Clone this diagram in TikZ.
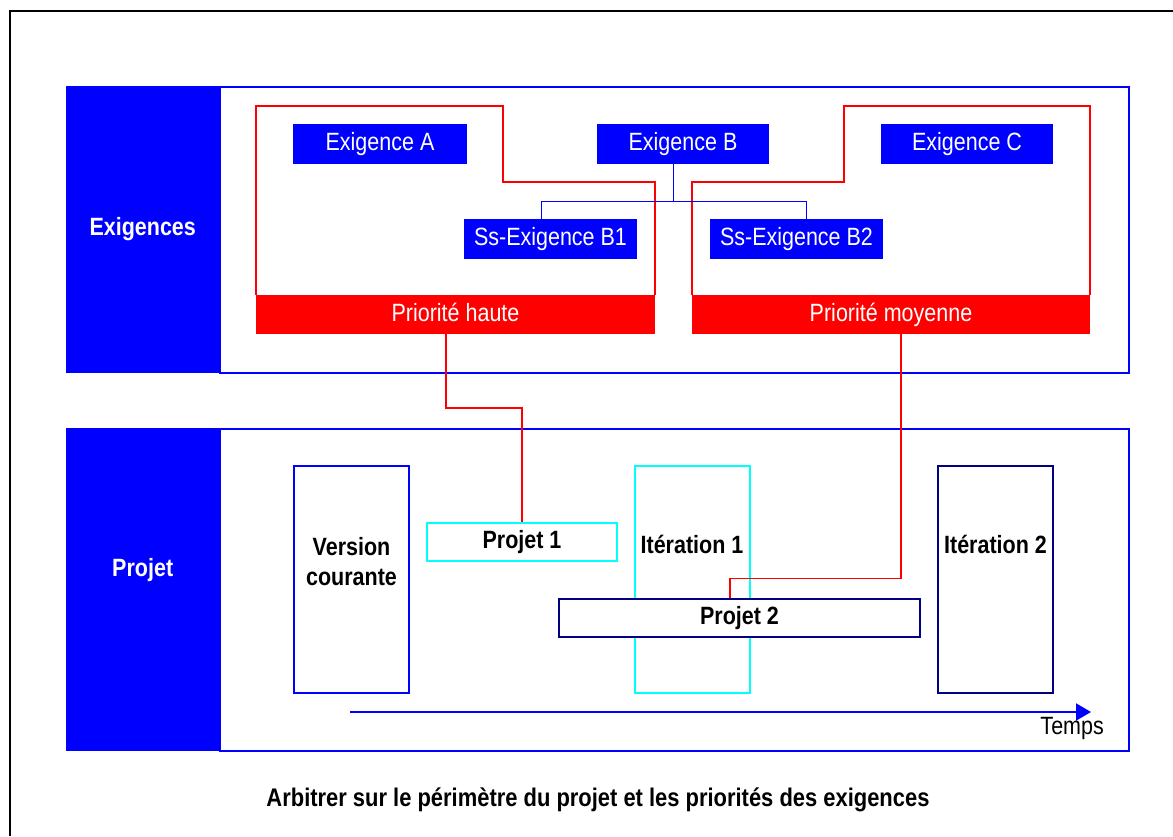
\documentclass[tikz,border=0pt]{standalone}
\usepackage{fontspec}
\setmainfont{Liberation Sans}[FakeStretch=0.86]
\usetikzlibrary{arrows.meta,calc}
\definecolor{pblue}{RGB}{0,0,255}
\definecolor{pred}{RGB}{255,0,0}
\definecolor{pcyan}{RGB}{0,255,255}
\definecolor{pnavy}{RGB}{0,0,128}
\begin{document}
\begin{tikzpicture}[x=1pt,y=-1pt,
  every node/.style={font=\fontsize{25}{30}\selectfont, inner sep=0pt},
  panel/.style={draw=pblue, line width=2pt, fill=white, minimum width=909pt, anchor=north west},
  plabel/.style={fill=pblue, draw=pblue, text=white, font=\fontsize{25}{30}\selectfont\bfseries, minimum width=153pt, anchor=north west},
  exbox/.style={fill=pblue, text=white, minimum width=173pt, minimum height=40pt, text height=18pt, text depth=5pt},
  redline/.style={draw=pred, line width=2pt},
  redbar/.style={fill=pred, text=white, minimum height=39pt, text height=18pt, text depth=5pt},
  tlbox/.style={draw=#1, line width=2pt, fill=white, minimum width=115pt, minimum height=227pt},
  projbox/.style={draw=#1, line width=2pt, fill=white, minimum height=38pt, text height=18pt, text depth=5pt, font=\fontsize{25}{30}\selectfont\bfseries},
  link/.style={draw=pblue, line width=1pt},
  rlink/.style={draw=pred, line width=1.6pt}
]
\useasboundingbox (0,0) rectangle (1173,836);
\fill[white] (0,0) rectangle (1173,836);
% outer frame
\draw[black, line width=1.5pt] (10,836) -- (10,11) -- (1173,11);

% Exigences panel
\node[panel, minimum height=286pt] (expanel) at (219,86) {};
\node[plabel, minimum height=286pt] (exlabel) at (66,86) {Exigences};

% red priority zones
\draw[redline] (256,295) -- (256,106) -- (503,106) -- (503,182) -- (655,182) -- (655,295);
\draw[redline] (692,295) -- (692,182) -- (844,182) -- (844,106) -- (1090,106) -- (1090,295);
\node[redbar, minimum width=399pt] (haute) at (455.5,314.5) {Priorité haute};
\node[redbar, minimum width=398pt] (moy) at (891,314.5) {Priorité moyenne};

% requirement boxes
\node[exbox, minimum width=174pt] (exA) at (380,144) {Exigence A};
\node[exbox, minimum width=172pt] (exB) at (683,144) {Exigence B};
\node[exbox, minimum width=172pt] (exC) at (967,144) {Exigence C};
\node[exbox] (ssB1) at (550.5,239) {Ss-Exigence B1};
\node[exbox] (ssB2) at (796.5,239) {Ss-Exigence B2};
\coordinate (jB) at ($(exB.south)+(-10,37)$);
\draw[link] ([xshift=-10pt]exB.south) -- (jB);
\draw[link] (jB) -| ([xshift=-9.5pt]ssB1.north);
\draw[link] (jB) -| ([xshift=9.5pt]ssB2.north);

% Projet panel
\node[panel, minimum height=322pt] (prpanel) at (219,428) {};
\node[plabel, minimum height=322pt, label={[name=prtext, text=white, font=\fontsize{25}{30}\selectfont\bfseries, yshift=19pt]center:Projet}] (prlabel) at (66,428) {};

% time boxes
\node[tlbox=pblue, label={[name=vctext, font=\fontsize{25}{30}\selectfont\bfseries, align=center, yshift=18pt]center:Version\\courante}] (vc) at (351.5,579.5) {};
\node[tlbox=pcyan, label={[name=it1text, font=\fontsize{25}{30}\selectfont\bfseries, yshift=35pt]center:Itération 1}] (it1) at (692,579.5) {};
\node[tlbox=pnavy, label={[name=it2text, font=\fontsize{25}{30}\selectfont\bfseries, yshift=35pt]center:Itération 2}] (it2) at (995.5,579.5) {};

% projects
\node[projbox=pcyan, minimum width=190pt] (p1) at (522,542) {Projet 1};
\node[projbox=pnavy, minimum width=361pt] (p2) at (739.5,617.5) {Projet 2};

% time arrow
\coordinate (tstart) at (350,712);
\coordinate (tend) at (1091,712);
\draw[pblue, line width=2pt, -{Triangle[length=15pt,width=17pt]}] (tstart) -- (tend);
\node[anchor=north east] (temps) at (1104,717) {Temps};

% priority links
\draw[rlink] ([xshift=-9.5pt]haute.south) -- ++(0,74) -| (p1.north);
\draw[rlink] ([xshift=10pt]moy.south) |- ($(p2.north)+(-9.5,-19)$) -- ([xshift=-9.5pt]p2.north);

% caption
\node[font=\fontsize{25.5}{30}\selectfont\bfseries] (caption) at (598,800) {Arbitrer sur le périmètre du projet et les priorités des exigences};
\end{tikzpicture}
\end{document}
